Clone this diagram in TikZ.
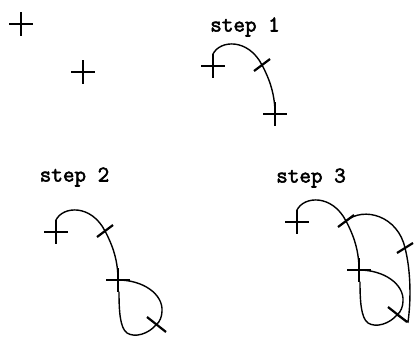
\documentclass[tikz,border=0pt]{standalone}
\usepackage{fontspec}
\newfontfamily\labfont[FakeBold=2.5]{Latin Modern Mono}
\begin{document}
\begin{tikzpicture}[x=1pt,y=-1pt,
  curve/.style={line width=1.4pt,line cap=round},
  tickmark/.style={line width=2.2pt},
  lab/.style={font=\labfont\fontsize{22.5}{26}\selectfont,inner sep=0pt},
  crossmark/.pic={\draw[line width=1.4pt] (-12,0)--(12,0) (0,-12)--(0,12);}]
\useasboundingbox (0,0) rectangle (415,338);
\newcommand\crossesAB{\pic at (213,66) {crossmark}; \pic at (275,114) {crossmark};}
\newcommand\firstcurve{%
  \draw[curve] (213,54) .. controls (220,40) and (248,38) .. (262,65)
     .. controls (270,80) and (275,95) .. (275,114);
  \draw[tickmark] (254,71) -- (270,59);}
\newcommand\loopcurve{%
  \draw[curve] (275,114) .. controls (300,114) and (320,128) .. (319,145)
     .. controls (319,150) and (317,156) .. (313,159)
     .. controls (305,168) and (292,172) .. (284,167)
     .. controls (277,162) and (276,145) .. (276,126);
  \draw[tickmark] (304,151) -- (323,166);}
% step 0
\begin{scope}[shift={(-192,-42)}]
  \crossesAB
\end{scope}
% step 1
\node[lab] (s1) at (245,27) {step 1};
\crossesAB
\firstcurve
% step 2
\node[lab] (s2) at (74.5,177) {step 2};
\begin{scope}[shift={(-157,166)}]
  \crossesAB
  \firstcurve
  \loopcurve
\end{scope}
% step 3
\node[lab] (s3) at (311,178) {step 3};
\begin{scope}[shift={(84,156)}]
  \crossesAB
  \firstcurve
  \loopcurve
  \draw[curve] (262,65) .. controls (280,50) and (314,60) .. (321,92)
     .. controls (327,115) and (327,145) .. (324,166) -- (313,159);
  \draw[tickmark] (313,97) -- (329,87);
\end{scope}
\end{tikzpicture}
\end{document}
